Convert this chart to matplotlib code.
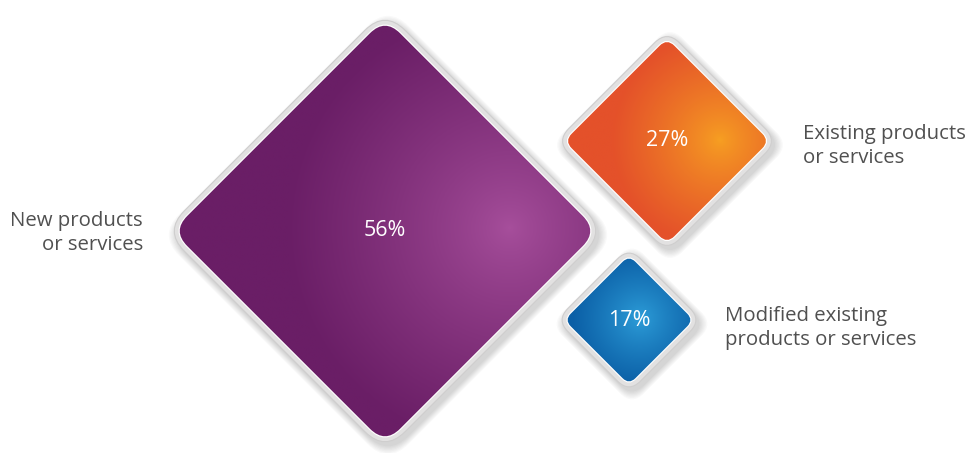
import numpy as np
import matplotlib
matplotlib.use("Agg")
import matplotlib.pyplot as plt
from matplotlib.path import Path
from matplotlib.patches import PathPatch
from matplotlib.colors import LinearSegmentedColormap

# data
categories = ["New products\nor services", "Existing products\nor services",
              "Modified existing\nproducts or services"]
shares = [56, 27, 17]
pct_labels = ["56%", "27%", "17%"]

# colours (light centre -> dark edge)
light_cols = ["#a74f9c", "#f7a022", "#2e9fda"]
dark_cols = ["#6a1e66", "#e4512a", "#0b5fa6"]

# layout in pixels
centers = [(385, 231), (667, 141), (629, 320)]
hilite = [(510, 228), (720, 140), (640, 318)]
scale = 3.8          # pixels of half-diagonal per percent
label_pos = [(143, 233, "right"), (803, 146, "left"), (725, 328, "left")]


def rounded_diamond(cx, cy, h, r):
    pts = [(cx, cy - h), (cx + h, cy), (cx, cy + h), (cx - h, cy)]
    verts, codes = [], []
    n = len(pts)
    for i in range(n):
        p = np.array(pts[i], float)
        prev = np.array(pts[i - 1], float)
        nxt = np.array(pts[(i + 1) % n], float)
        a = p + (prev - p) / np.linalg.norm(prev - p) * r
        b = p + (nxt - p) / np.linalg.norm(nxt - p) * r
        verts.append(a)
        codes.append(Path.MOVETO if i == 0 else Path.LINETO)
        verts += [p, b]
        codes += [Path.CURVE3, Path.CURVE3]
    verts.append(verts[0])
    codes.append(Path.CLOSEPOLY)
    return Path(verts, codes)


fig = plt.figure(figsize=(9.69, 4.53), dpi=100)
ax = fig.add_axes([0, 0, 1, 1])
ax.set_xlim(0, 969)
ax.set_ylim(453, 0)
ax.axis("off")

for i, v in enumerate(shares):
    cx, cy = centers[i]
    h = v * scale
    border = 8
    r_in = max(9, h * 0.1)

    # soft shadow
    for k in range(7):
        sp = rounded_diamond(cx + 3, cy + 4, h + border + 1 + k * 1.3, r_in + border)
        ax.add_patch(PathPatch(sp, facecolor="#000000", edgecolor="none",
                               alpha=0.025, zorder=1))
    # grey frame
    ax.add_patch(PathPatch(rounded_diamond(cx, cy, h + border, r_in + border * 0.9),
                           facecolor="#e2e1e1", edgecolor="#cfcece", lw=0.8, zorder=2))
    # white rim
    ax.add_patch(PathPatch(rounded_diamond(cx, cy, h + 1.6, r_in + 1),
                           facecolor="white", edgecolor="none", zorder=3))

    # radial gradient fill clipped to diamond
    inner = PathPatch(rounded_diamond(cx, cy, h, r_in), facecolor="none",
                      edgecolor="none", zorder=4)
    ax.add_patch(inner)
    xs = np.linspace(cx - h, cx + h, 300)
    ys = np.linspace(cy - h, cy + h, 300)
    X, Y = np.meshgrid(xs, ys)
    hx, hy = hilite[i]
    d = np.sqrt((X - hx) ** 2 + (Y - hy) ** 2) / (h * 1.05)
    d = np.clip(d, 0, 1) ** 0.8
    cmap = LinearSegmentedColormap.from_list("g%d" % i, [light_cols[i], dark_cols[i]])
    im = ax.imshow(d, cmap=cmap, vmin=0, vmax=1, extent=(cx - h, cx + h, cy + h, cy - h),
                   interpolation="bilinear", zorder=4)
    im.set_clip_path(inner)

    ax.text(cx, cy, pct_labels[i], color="white", fontsize=15.5, family="Open Sans",
            ha="center", va="center", zorder=6)

    lx, ly, al = label_pos[i]
    ax.text(lx, ly, categories[i], color="#505050", fontsize=14.7, family="Open Sans",
            ha=al, va="center", linespacing=1.32, zorder=6)

ax.set_xlim(0, 969)
ax.set_ylim(453, 0)
fig.savefig("out.png", dpi=100)
